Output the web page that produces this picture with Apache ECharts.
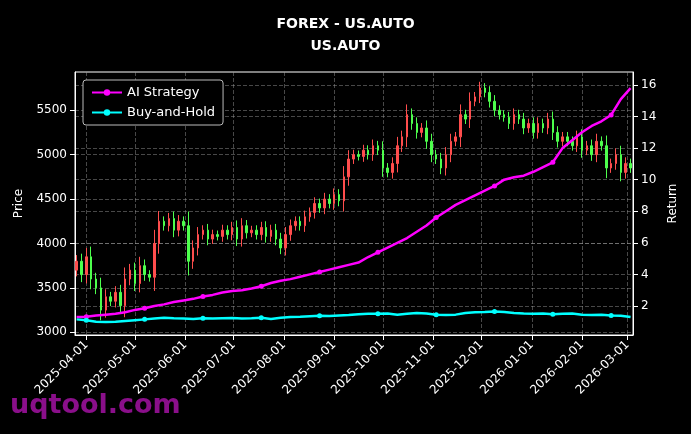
<!DOCTYPE html>
<html>
<head>
<meta charset="utf-8">
<script src="https://cdn.jsdelivr.net/npm/echarts@6/dist/echarts.min.js"></script>
<style>html,body{margin:0;background:#000}#c{width:691px;height:434px}</style>
</head>
<body>
<div id="c"></div>
<script>
// candles every 3 days from 2025-03-26
const candleStart = '2025-03-26';
const closes = [
  3800, 3650, 3850, 3600, 3500, 3250, 3400, 3350, 3450, 3300,
  3600, 3700, 3550, 3750, 3650, 3620, 4000, 4250, 4200, 4280,
  4150, 4250, 4200, 3800, 3950, 4100, 4150, 4050, 4100, 4080,
  4150, 4100, 4180, 4050, 4200, 4120, 4150, 4100, 4180, 4080,
  4150, 4050, 3950, 4100, 4200, 4250, 4200, 4300, 4350, 4450,
  4400, 4500, 4450, 4550, 4480, 4750, 4950, 5000, 4980, 5050,
  5000, 5100, 5050, 4850, 4800, 4900, 5100, 5200, 5450, 5350,
  5250, 5300, 5150, 5000, 4950, 4850, 5000, 5150, 5200, 5450,
  5400, 5600, 5650, 5750, 5700, 5600, 5500, 5450, 5420, 5350,
  5450, 5400, 5300, 5350, 5250, 5350, 5300, 5400, 5250, 5150,
  5200, 5150, 5100, 5200, 5050, 5100, 5000, 5150, 5100, 4850,
  4900, 5000, 4800, 4900, 4850
];
const firstOpen = 3700;

// return curves every 6 days from 2025-03-26
const lineStart = '2025-03-26';
const strategy = [
  1.3, 1.32, 1.4, 1.45, 1.5, 1.6, 1.75, 1.85, 2.0, 2.1,
  2.25, 2.35, 2.45, 2.6, 2.7, 2.85, 2.95, 3.0, 3.1, 3.25,
  3.45, 3.6, 3.7, 3.85, 4.0, 4.15, 4.3, 4.45, 4.6, 4.75,
  5.1, 5.4, 5.7, 6.0, 6.3, 6.7, 7.1, 7.6, 8.0, 8.4,
  8.7, 9.0, 9.3, 9.6, 10.0, 10.15, 10.25, 10.5, 10.8, 11.1,
  12.0, 12.5, 13.0, 13.4, 13.7, 14.1, 15.1, 15.8
];
const buyHold = [
  1.15, 1.1, 1.0, 0.98, 1.0, 1.05, 1.1, 1.15, 1.2, 1.25,
  1.22, 1.2, 1.18, 1.22, 1.2, 1.22, 1.23, 1.2, 1.22, 1.25,
  1.18, 1.25, 1.3, 1.32, 1.35, 1.38, 1.36, 1.4, 1.42, 1.48,
  1.5, 1.5, 1.52, 1.45, 1.5, 1.55, 1.52, 1.45, 1.42, 1.45,
  1.55, 1.6, 1.62, 1.65, 1.62, 1.55, 1.52, 1.5, 1.52, 1.48,
  1.5, 1.52, 1.45, 1.42, 1.44, 1.4, 1.38, 1.3
];
const priceTicks = [3000, 3500, 4000, 4500, 5000, 5500];
const returnTicks = [2, 4, 6, 8, 10, 12, 14, 16];

const DAY = 86400000;
const t0 = new Date(candleStart + 'T00:00:00Z').getTime();
const l0 = new Date(lineStart + 'T00:00:00Z').getTime();

const candles = closes.map((c, i) => {
  const o = i === 0 ? firstOpen : closes[i - 1];
  const span = Math.abs(c - o);
  return [t0 + i * 3 * DAY, o, c, Math.min(o, c) - span * 0.3 - 40, Math.max(o, c) + span * 0.3 + 40];
});
const stratData = strategy.map((v, i) => [l0 + i * 6 * DAY, v]);
const bhData = buyHold.map((v, i) => [l0 + i * 6 * DAY, v]);

const grey = 'rgba(160,160,160,0.45)';
const markSym = (v, p) => (p.dataIndex % 6 === 1 ? 'circle' : 'none');
const plain = v => String(v).replace(/,/g, '');

const chart = echarts.init(document.getElementById('c'));
chart.setOption({
  backgroundColor: '#000',
  animation: false,
  title: {
    text: 'FOREX - US.AUTO\nUS.AUTO',
    left: 'center', top: 8,
    textStyle: { color: '#fff', fontSize: 14, fontWeight: 'bold', fontFamily: 'DejaVu Sans', lineHeight: 22 }
  },
  graphic: [{
    type: 'text', left: 10, top: 392,
    style: { text: 'uqtool.com', fill: '#8a0f8a', font: 'bold 27px DejaVu Sans' }
  }],
  legend: {
    left: 83, top: 80, orient: 'vertical', itemGap: 7,
    backgroundColor: '#000', borderColor: '#bbb', borderWidth: 1, borderRadius: 3,
    padding: [6, 8],
    itemWidth: 30, itemHeight: 8,
    textStyle: { color: '#fff', fontSize: 13, fontFamily: 'DejaVu Sans' },
    data: ['AI Strategy', 'Buy-and-Hold']
  },
  grid: { left: 75, right: 58, top: 72, bottom: 99, show: true, borderColor: '#fff', borderWidth: 1 },
  xAxis: {
    type: 'time',
    min: new Date('2025-03-25T00:00:00Z').getTime(),
    max: new Date('2026-03-04T12:00:00Z').getTime(),
    minInterval: 28 * DAY, maxInterval: 31 * DAY,
    axisLine: { lineStyle: { color: '#fff' } },
    axisTick: { show: true, lineStyle: { color: '#fff' } },
    axisLabel: {
      color: '#fff', fontSize: 12, fontFamily: 'DejaVu Sans', rotate: 45,
      formatter: v => echarts.time.format(v, '{yyyy}-{MM}-{dd}', true),
      hideOverlap: false
    },
    splitLine: { show: true, lineStyle: { color: grey, type: 'dashed' } }
  },
  yAxis: [{
    type: 'value', min: 2970, max: 5930, position: 'left',
    name: 'Price', nameLocation: 'middle', nameGap: 50,
    nameTextStyle: { color: '#fff', fontSize: 12, fontFamily: 'DejaVu Sans' },
    axisLine: { show: true, lineStyle: { color: '#fff' } },
    axisTick: { show: true, customValues: priceTicks, lineStyle: { color: '#fff' } },
    axisLabel: { color: '#fff', fontSize: 12, fontFamily: 'DejaVu Sans', customValues: priceTicks, formatter: plain },
    splitLine: { show: true, customValues: priceTicks, lineStyle: { color: grey, type: 'dashed' } }
  }, {
    type: 'value', min: 0.16, max: 16.82, position: 'right',
    name: 'Return', nameLocation: 'middle', nameGap: 32,
    nameTextStyle: { color: '#fff', fontSize: 12, fontFamily: 'DejaVu Sans' },
    axisLine: { show: true, lineStyle: { color: '#fff' } },
    axisTick: { show: true, customValues: returnTicks, lineStyle: { color: '#fff' } },
    axisLabel: { color: '#fff', fontSize: 12, fontFamily: 'DejaVu Sans', customValues: returnTicks, formatter: plain },
    splitLine: { show: true, customValues: returnTicks, lineStyle: { color: grey, type: 'dashed' } }
  }],
  series: [{
    type: 'candlestick', name: 'Price', yAxisIndex: 0, barWidth: 2,
    itemStyle: { color: '#ff4d4d', color0: '#4dff4d', borderColor: '#ff4d4d', borderColor0: '#4dff4d', borderWidth: 1 },
    data: candles
  }, {
    type: 'line', name: 'AI Strategy', yAxisIndex: 1, data: stratData,
    symbol: markSym, symbolSize: 5, showAllSymbol: true,
    lineStyle: { color: '#ff00ff', width: 2.5 }, itemStyle: { color: '#ff00ff' }
  }, {
    type: 'line', name: 'Buy-and-Hold', yAxisIndex: 1, data: bhData,
    symbol: markSym, symbolSize: 5, showAllSymbol: true,
    lineStyle: { color: '#00ffff', width: 2.5 }, itemStyle: { color: '#00ffff' }
  }]
});
</script>
</body>
</html>
